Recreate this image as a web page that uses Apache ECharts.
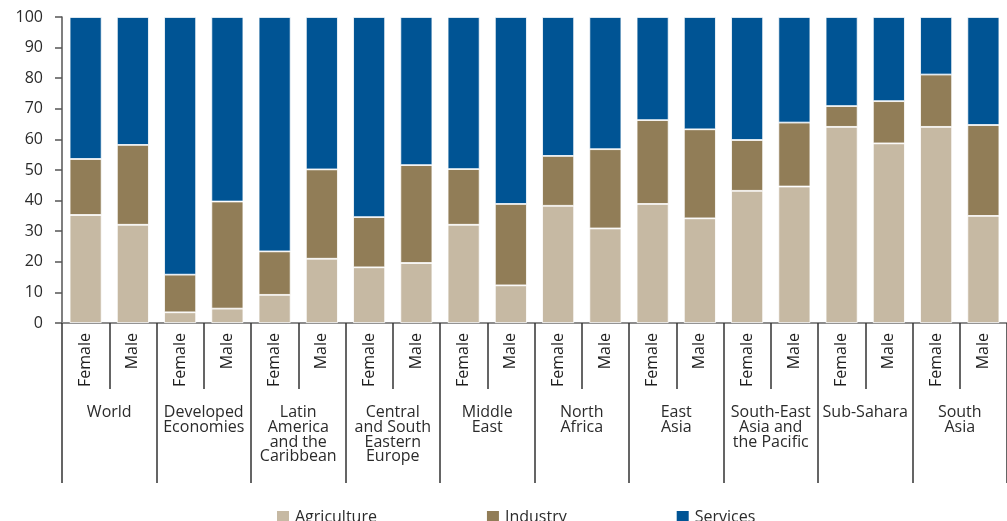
<!DOCTYPE html>
<html>
<head>
<meta charset="utf-8">
<script src="https://cdn.jsdelivr.net/npm/echarts@6/dist/echarts.min.js"></script>
<style>
    html, body { margin: 0; padding: 0; background: #fff; }
    #main { width: 1007px; height: 521px; }
</style>
</head>
<body>
<div id="main"></div>
<script>
// 数据
var sexLabels = ['Female', 'Male', 'Female', 'Male', 'Female', 'Male', 'Female', 'Male', 'Female', 'Male',
    'Female', 'Male', 'Female', 'Male', 'Female', 'Male', 'Female', 'Male', 'Female', 'Male'];
var regionLabels = ['World', 'Developed\nEconomies', 'Latin\nAmerica\nand the\nCaribbean', 'Central\nand South\nEastern\nEurope',
    'Middle\nEast', 'North\nAfrica', 'East\nAsia', 'South-East\nAsia and\nthe Pacific', 'Sub-Sahara', 'South\nAsia'];
var agriculture = [35.3, 32.1, 3.5, 4.7, 9.2, 21.0, 18.2, 19.6, 32.1, 12.3, 38.3, 30.9, 38.9, 34.2, 43.2, 44.6, 64.1, 58.7, 64.1, 35.0];
var industry = [18.3, 26.1, 12.3, 35.0, 14.2, 29.2, 16.4, 32.0, 18.2, 26.6, 16.3, 25.9, 27.4, 29.1, 16.6, 20.9, 6.8, 13.8, 17.1, 29.7];
var services = [46.4, 41.8, 84.2, 60.3, 76.6, 49.8, 65.4, 48.4, 49.7, 61.1, 45.4, 43.2, 33.7, 36.7, 40.2, 34.5, 29.1, 27.5, 18.8, 35.3];
var yTicks = [0, 10, 20, 30, 40, 50, 60, 70, 80, 90, 100];

var myChart = echarts.init(document.getElementById('main'));

var textColor = '#2b2b2b';
var fontName = 'Open Sans';

function barSeries(name, data, color) {
    return {
        name: name,
        type: 'bar',
        stack: 'total',
        barWidth: 32,
        data: data,
        itemStyle: {
            color: color,
            borderColor: '#ffffff',
            borderWidth: 0.8
        }
    };
}

var option = {
    animation: false,
    textStyle: { fontFamily: fontName },
    grid: {
        left: 62,
        right: -7,
        top: 17,
        bottom: 198
    },
    legend: {
        left: 270,
        top: 504,
        itemWidth: 14,
        itemHeight: 14,
        itemGap: 108,
        icon: 'rect',
        textStyle: { color: textColor, fontSize: 16, fontFamily: fontName },
        data: ['Agriculture', 'Industry', 'Services']
    },
    xAxis: [{ // 男女标签
        type: 'category',
        position: 'bottom',
        data: sexLabels,
        axisLine: { lineStyle: { color: '#8c8c8c', width: 2 } },
        axisTick: { show: true, length: 66, lineStyle: { color: '#333', width: 1.5 } },
        axisLabel: {
            interval: 0,
            rotate: 90,
            margin: 10,
            color: '#1e1e1e',
            fontSize: 16,
            fontFamily: fontName
        }
    }, { // 地区标签
        type: 'category',
        position: 'bottom',
        data: regionLabels,
        axisLine: { show: false },
        axisTick: { show: true, length: 160, lineStyle: { color: '#333', width: 1.5 } },
        axisLabel: {
            interval: 0,
            margin: 82,
            color: textColor,
            fontSize: 16,
            lineHeight: 14.8,
            verticalAlign: 'top',
            fontFamily: fontName
        }
    }],
    yAxis: {
        type: 'value',
        min: yTicks[0],
        max: yTicks[yTicks.length - 1],
        interval: 10,
        splitLine: { show: false },
        axisLine: { show: true, lineStyle: { color: '#555', width: 1.5 } },
        axisTick: { show: true, length: 7, lineStyle: { color: '#555', width: 1.5 } },
        axisLabel: { color: textColor, fontSize: 16, margin: 19, fontFamily: fontName }
    },
    series: [
        barSeries('Agriculture', agriculture, '#c6b9a3'),
        barSeries('Industry', industry, '#917d57'),
        barSeries('Services', services, '#005494')
    ]
};

myChart.setOption(option);
</script>
</body>
</html>
